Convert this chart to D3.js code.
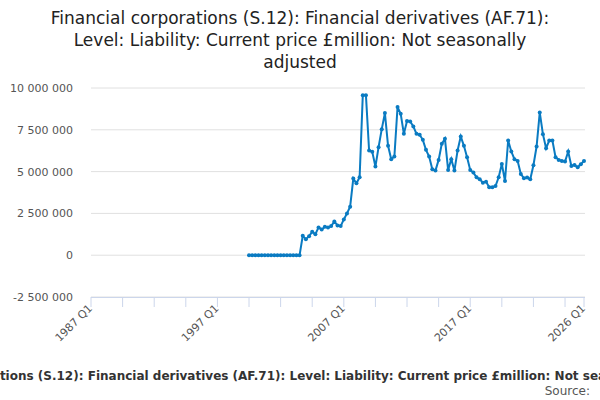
<!DOCTYPE html>
<html><head><meta charset="utf-8">
<script src="https://cdnjs.cloudflare.com/ajax/libs/d3/7.8.5/d3.min.js"></script>
<style>body{margin:0;background:#fff;font-family:"DejaVu Sans",sans-serif}</style>
</head><body><svg id="c" width="600" height="400"></svg>
<script>
const startYear = 1999, startQuarter = 3;
const values = [
0,0,0,0,0,0,0,0,0,0,0,0,0,0,0,0,0,
1.16,0.96,1.14,1.4,1.26,1.66,1.54,1.7,1.66,1.74,2.02,1.78,1.74,2.14,2.5,2.9,
4.58,4.3,4.66,9.56,9.56,6.26,6.18,5.3,6.46,7.54,8.5,6.54,5.74,5.9,8.86,8.46,7.26,8.02,
8.0,7.7,7.26,7.2,6.9,6.3,5.9,5.14,5.06,5.7,6.66,6.96,5.1,5.74,5.06,6.26,7.1,6.54,5.86,5.1,
4.94,4.66,4.54,4.34,4.4,4.06,4.06,4.14,4.66,5.46,4.44,6.86,6.2,5.74,5.64,4.86,4.6,4.64,4.54,
5.38,6.5,8.54,7.24,6.4,6.86,6.86,5.86,5.7,5.64,5.6,6.2,5.34,5.4,5.26,5.44,5.64
].map(v=>v*1e6);
const yTicks = [-2500000,0,2500000,5000000,7500000,10000000];
const xLabels = ["1987 Q1","1997 Q1","2007 Q1","2017 Q1","2026 Q1"];
const title = ["Financial corporations (S.12): Financial derivatives (AF.71):","Level: Liability: Current price £million: Not seasonally","adjusted"];
const footer = "Financial corporations (S.12): Financial derivatives (AF.71): Level: Liability: Current price £million: Not seasonally adjusted";

const data = values.map((v,i)=>({t:startYear+(startQuarter-1)/4+i/4, v}));
const svg = d3.select("#c");
const x = d3.scaleLinear().domain([1987,2026]).range([91,584]);
const y = d3.scaleLinear().domain([-2500000,10000000]).range([297,88]);
const fmt = v => (v<0?"-":"") + d3.format(",")(Math.abs(v)).replace(/,/g," ");

svg.append("g").selectAll("text").data(title).join("text")
 .attr("x",300).attr("y",(d,i)=>24+i*22).attr("text-anchor","middle")
 .attr("font-size",17).attr("fill","#222").text(d=>d);

svg.append("g").selectAll("line").data(yTicks).join("line")
 .attr("x1",91).attr("x2",585).attr("y1",d=>y(d)).attr("y2",d=>y(d))
 .attr("stroke","#e0e0e0");
svg.append("g").selectAll("text").data(yTicks).join("text")
 .attr("x",73).attr("y",d=>y(d)+4).attr("text-anchor","end")
 .attr("font-size",11).attr("fill","#555").text(fmt);

const minor = d3.range(0,40,2.5).map(k=>1987+k).concat([2026]);
const g = svg.append("g");
g.append("line").attr("x1",91).attr("x2",585).attr("y1",297.5).attr("y2",297.5).attr("stroke","#ccd6eb");
g.selectAll("line.t").data(minor).join("line").attr("class","t")
 .attr("x1",d=>x(d)).attr("x2",d=>x(d)).attr("y1",297).attr("y2",307).attr("stroke","#ccd6eb");
const labT = [1987,1997,2007,2017,2026];
g.selectAll("text").data(xLabels).join("text")
 .attr("transform",(d,i)=>`translate(${x(labT[i])+2},${309}) rotate(-45)`)
 .attr("text-anchor","end").attr("font-size",11).attr("fill","#555").text(d=>d);

const line = d3.line().x(d=>x(d.t)).y(d=>y(d.v));
svg.append("path").datum(data).attr("d",line).attr("fill","none").attr("stroke","#0a7bc2").attr("stroke-width",2);
svg.append("g").selectAll("circle").data(data).join("circle")
 .attr("cx",d=>x(d.t)).attr("cy",d=>y(d.v)).attr("r",2).attr("fill","#0a7bc2");

svg.append("text").attr("x",300).attr("y",380).attr("text-anchor","middle")
 .attr("font-size",12).attr("font-weight","bold").attr("fill","#333").text(footer);
svg.append("text").attr("x",590).attr("y",395).attr("text-anchor","end")
 .attr("font-size",12).attr("fill","#555").text("Source:");
</script></body></html>
